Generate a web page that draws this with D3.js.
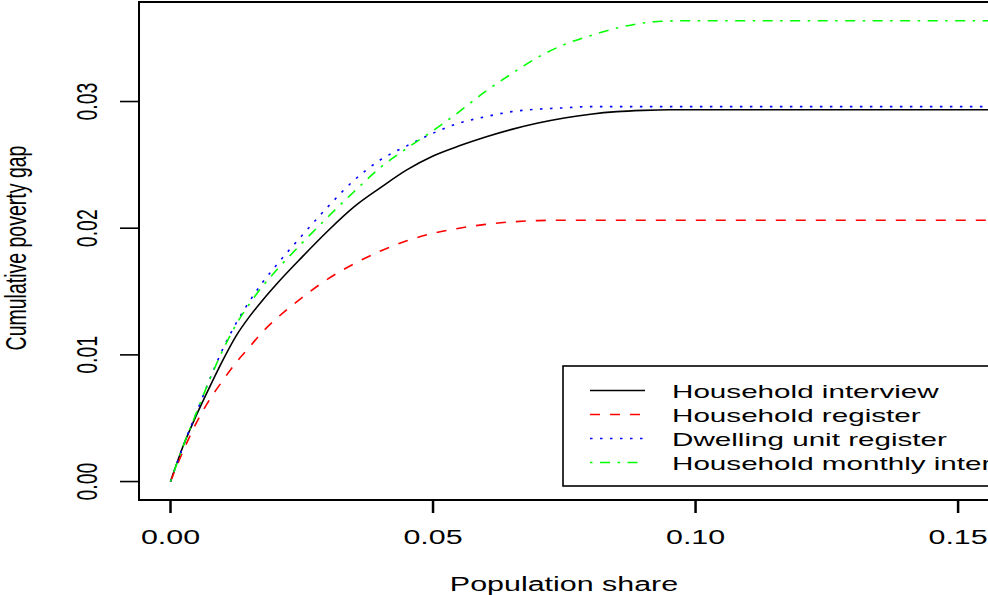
<!DOCTYPE html>
<html>
<head>
<meta charset="utf-8">
<script src="https://cdn.jsdelivr.net/npm/d3@7"></script>
<style>
  body { margin: 0; background: #fff; }
  text { font-family: "Liberation Sans", Arial, sans-serif; fill: #000; }
</style>
</head>
<body>
<script>
// population share grid (x values shared by all series)
var share = [0, 0.0025, 0.005, 0.0075, 0.01, 0.0125, 0.015, 0.0175, 0.02, 0.025, 0.03, 0.035,
  0.04, 0.045, 0.05, 0.055, 0.06, 0.065, 0.07, 0.075, 0.08, 0.085, 0.09, 0.095, 0.1, 0.17];

var interview = [0, 0.0029, 0.0053, 0.0075, 0.0096, 0.0115, 0.0130, 0.0143, 0.0155, 0.0177, 0.0198, 0.0217,
  0.0232, 0.0246, 0.0257, 0.0265, 0.0272, 0.0278, 0.0283, 0.0287, 0.0290, 0.0292, 0.0293, 0.02935, 0.02935, 0.02935];
var register = [0, 0.0025, 0.0047, 0.0065, 0.0080, 0.0094, 0.0106, 0.0118, 0.0128, 0.0145, 0.0160, 0.0172,
  0.0182, 0.0190, 0.0196, 0.0200, 0.0203, 0.0205, 0.0206, 0.02063, 0.02063, 0.02063, 0.02063, 0.02063, 0.02063, 0.02063];
var dwelling = [0, 0.0029, 0.0055, 0.0081, 0.0105, 0.0125, 0.0142, 0.0157, 0.0170, 0.0194, 0.0217, 0.0238,
  0.0254, 0.0265, 0.0275, 0.0283, 0.0288, 0.0292, 0.0294, 0.0295, 0.0296, 0.0296, 0.0296, 0.0296, 0.0296, 0.0296];
var monthly = [0, 0.0029, 0.0055, 0.0081, 0.0104, 0.0124, 0.0140, 0.0154, 0.0166, 0.0188, 0.0209, 0.0229,
  0.0248, 0.0263, 0.0277, 0.0292, 0.0308, 0.0322, 0.0335, 0.0345, 0.0352, 0.0358, 0.0362, 0.03636, 0.03638, 0.03638];

var seriesNames = ['Household interview', 'Household register', 'Dwelling unit register', 'Household monthly interview'];
var seriesColors = ['#000000', '#ff0000', '#0000ff', '#00ff00'];
var seriesDash = [null, '10,10', '2.5,7.5', '2.5,7.5,10,7.5'];

var xTicks = [0, 0.05, 0.1, 0.15];
var yTicks = [0, 0.01, 0.02, 0.03];

var width = 988, height = 595;
var stretch = 1.56; // text is drawn wider than tall

var svg = d3.select('body').append('svg').attr('width', width).attr('height', height);

// R style 4% padding around data range
var x = d3.scaleLinear().domain([-0.006, 0.156]).range([139, 989.6]);
var y = d3.scaleLinear().domain([-0.001456, 0.037856]).range([500, 2]);

svg.append('clipPath').attr('id', 'plotclip')
  .append('rect').attr('x', 139).attr('y', 2).attr('width', 989.6 - 139).attr('height', 498);

function htext(px, py, str) {
  return svg.append('text')
    .attr('transform', 'translate(' + px + ',' + py + ') scale(' + stretch + ',1)')
    .attr('text-anchor', 'middle')
    .style('font-size', '19.5px')
    .text(str);
}
function vtext(px, py, str) {
  return svg.append('text')
    .attr('transform', 'translate(' + px + ',' + py + ') scale(' + stretch + ',1) rotate(-90)')
    .attr('text-anchor', 'middle')
    .style('font-size', '19.5px')
    .text(str);
}

// lines
var all = [interview, register, dwelling, monthly];
var line = d3.line()
  .x(function (d, i) { return x(share[i]); })
  .y(function (d) { return y(d); })
  .curve(d3.curveMonotoneX);

var plot = svg.append('g').attr('clip-path', 'url(#plotclip)');
all.forEach(function (vals, k) {
  plot.append('path')
    .attr('d', line(vals))
    .attr('fill', 'none')
    .attr('stroke', seriesColors[k])
    .attr('stroke-width', 1.6)
    .attr('stroke-dasharray', seriesDash[k]);
});

// plot box
svg.append('rect')
  .attr('x', 139).attr('y', 2)
  .attr('width', 989.6 - 139).attr('height', 498)
  .attr('fill', 'none').attr('stroke', '#000').attr('stroke-width', 2);

// x axis
xTicks.forEach(function (t) {
  svg.append('line')
    .attr('x1', x(t)).attr('x2', x(t)).attr('y1', 500).attr('y2', 513)
    .attr('stroke', '#000').attr('stroke-width', 2.5);
  htext(x(t), 544, d3.format('.2f')(t));
});
htext(564, 591, 'Population share');

// y axis
yTicks.forEach(function (t) {
  svg.append('line')
    .attr('x1', 120).attr('x2', 139).attr('y1', y(t)).attr('y2', y(t))
    .attr('stroke', '#000').attr('stroke-width', 1.6);
  vtext(97, y(t), d3.format('.2f')(t));
});
vtext(26, 248, 'Cumulative poverty gap');

// legend
var legY = [390.5, 414.5, 438.5, 462.5];
svg.append('rect')
  .attr('x', 563).attr('y', 366)
  .attr('width', 460).attr('height', 120)
  .attr('fill', '#fff').attr('stroke', '#000').attr('stroke-width', 1.6);

seriesNames.forEach(function (name, k) {
  svg.append('line')
    .attr('x1', 590).attr('x2', 645).attr('y1', legY[k]).attr('y2', legY[k])
    .attr('stroke', seriesColors[k]).attr('stroke-width', 1.6)
    .attr('stroke-dasharray', seriesDash[k]);
  svg.append('text')
    .attr('transform', 'translate(672,' + (legY[k] + 7) + ') scale(' + stretch + ',1)')
    .style('font-size', '19px')
    .text(name);
});
</script>
</body>
</html>
